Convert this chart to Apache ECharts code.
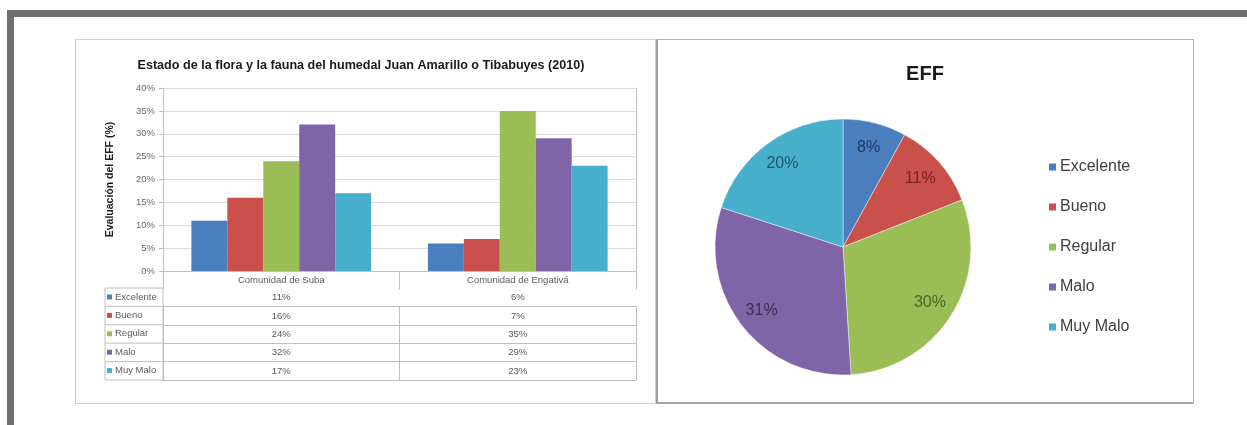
<!DOCTYPE html>
<html>
<head>
<meta charset="utf-8">
<script src="https://cdn.jsdelivr.net/npm/echarts@6/dist/echarts.min.js"></script>
<style>
  html, body { margin: 0; padding: 0; background: #fff; }
  #wrap { position: relative; width: 1247px; height: 425px; overflow: hidden; background: #fff; }
  .frame { position: absolute; left: 7px; top: 10px; width: 1240px; height: 415px; box-sizing: border-box;
           border-top: 7px solid #6f6f71; border-left: 7px solid #6f6f71; }
  .panel { position: absolute; box-sizing: border-box; background: #fff; }
  #p1 { left: 75px; top: 39px; width: 581px; height: 365px; border: 1px solid #d2d2d2; }
  #p2 { left: 656px; top: 39px; width: 538px; height: 365px; border: 1px solid #b4b4b4;
        border-left: 2px solid #9c9c9c; border-bottom: 2px solid #a4a4a4; }
  #chart { position: absolute; left: 0; top: 0; width: 1247px; height: 425px; }
</style>
</head>
<body>
<div id="wrap">
  <div class="frame"></div>
  <div class="panel" id="p1"></div>
  <div class="panel" id="p2"></div>
  <div id="chart"></div>
</div>
<script>
// Evaluación del estado de la flora y la fauna (EFF), humedal Juan Amarillo o Tibabuyes (2010)
const categories = ['Comunidad de Suba', 'Comunidad de Engativá'];
const levels = ['Excelente', 'Bueno', 'Regular', 'Malo', 'Muy Malo'];
const excelente = [11, 6];
const bueno = [16, 7];
const regular = [24, 35];
const malo = [32, 29];
const muyMalo = [17, 23];
const effShare = [8, 11, 30, 31, 20];   // EFF global, por nivel
const yMax = 40;
const yStep = 5;

const levelValues = [excelente, bueno, regular, malo, muyMalo];
const colors = ['#4a7ebf', '#c9504b', '#9bbd55', '#8064a8', '#47aecb'];
const labelColors = ['#1f3a66', '#7a2320', '#4c6424', '#3e2f57', '#1d5a6c'];

const SANS = "'Liberation Sans', Arial, sans-serif";
const lineGray = '#bfbfbf';

// bar chart plot area and data-table geometry
const plot = { left: 163, right: 636, top: 88, bottom: 271 };
const headerH = 17;
const rowH = 18.4;
const keyLeft = 105;
const rowOffsets = levels.map((_, i) => headerH + i * rowH);
const tableBottomOffset = headerH + levels.length * rowH;

const chart = echarts.init(document.getElementById('chart'), null, { renderer: 'canvas' });

// table rows drawn as offset category axes: one row per level
const tableAxes = levels.map((name, i) => ({
  type: 'category',
  gridIndex: 0,
  position: 'bottom',
  offset: rowOffsets[i],
  data: categories,
  axisLine: { show: true, lineStyle: { color: lineGray, width: 1 } },
  axisTick: { show: true, interval: 0, length: rowH, lineStyle: { color: lineGray } },
  axisLabel: {
    interval: 0, margin: 4.5, fontFamily: SANS, fontSize: 9.5, color: '#5a5a5a',
    formatter: (v, idx) => levelValues[i][idx] + '%'
  },
  splitLine: { show: false }
}));

// key column of the data table
const keyGraphics = [];
keyGraphics.push({
  type: 'rect', silent: true,
  shape: { x: keyLeft, y: plot.bottom + headerH, width: plot.left - keyLeft, height: levels.length * rowH },
  style: { fill: 'none', stroke: lineGray, lineWidth: 1 }
});
for (let i = 1; i < levels.length; i++) {
  const y = plot.bottom + rowOffsets[i];
  keyGraphics.push({
    type: 'line', silent: true,
    shape: { x1: keyLeft, y1: y, x2: plot.left, y2: y },
    style: { stroke: lineGray, lineWidth: 1 }
  });
}

const option = {
  animation: false,
  color: colors,
  title: [
    {
      text: 'Estado de la flora y la fauna del humedal Juan Amarillo o Tibabuyes (2010)',
      left: 361, top: 66, padding: 0,
      textAlign: 'center', textVerticalAlign: 'middle',
      textStyle: { fontFamily: SANS, fontSize: 12.6, fontWeight: 'bold', color: '#1a1a1a' }
    },
    {
      text: 'EFF',
      left: 925, top: 74, padding: 0,
      textAlign: 'center', textVerticalAlign: 'middle',
      textStyle: { fontFamily: SANS, fontSize: 20, fontWeight: 'bold', color: '#1a1a1a' }
    }
  ],
  legend: [
    {
      data: levels,
      orient: 'vertical',
      left: keyLeft + 2, top: plot.bottom + headerH + 3,
      padding: 0,
      icon: 'rect', itemWidth: 5, itemHeight: 5,
      itemGap: rowH - 12,
      textStyle: { fontFamily: SANS, fontSize: 9.5, lineHeight: 12, color: '#5a5a5a', padding: [0, 0, 0, -2] }
    },
    {
      data: levels,
      orient: 'vertical',
      left: 1049, top: 157,
      padding: 0,
      icon: 'rect', itemWidth: 7, itemHeight: 7,
      itemGap: 20,
      textStyle: { fontFamily: SANS, fontSize: 16, lineHeight: 20, color: '#404040', padding: [0, 0, 0, -1] }
    }
  ],
  grid: {
    left: plot.left, right: 1247 - plot.right, top: plot.top, bottom: 425 - plot.bottom,
    containLabel: false
  },
  xAxis: [
    {
      type: 'category',
      data: categories,
      position: 'bottom',
      axisLine: { show: true, lineStyle: { color: lineGray, width: 1 } },
      axisTick: { show: true, interval: 0, length: headerH, lineStyle: { color: lineGray } },
      axisLabel: { interval: 0, margin: 4, fontFamily: SANS, fontSize: 9.5, color: '#5a5a5a' }
    },
    ...tableAxes,
    {
      type: 'category',
      data: categories,
      position: 'bottom',
      offset: tableBottomOffset,
      axisLine: { show: true, lineStyle: { color: lineGray, width: 1 } },
      axisTick: { show: false },
      axisLabel: { show: false }
    }
  ],
  yAxis: [
    {
      type: 'value',
      min: 0, max: yMax, interval: yStep,
      name: 'Evaluación del EFF (%)',
      nameLocation: 'middle', nameRotate: 90, nameGap: 47,
      nameTextStyle: { fontFamily: SANS, fontSize: 10.5, fontWeight: 'bold', color: '#1a1a1a' },
      axisLine: { show: true, lineStyle: { color: lineGray } },
      axisTick: { show: true, length: 4, lineStyle: { color: lineGray } },
      axisLabel: { margin: 8, fontFamily: SANS, fontSize: 9.5, color: '#6a6a6a', formatter: '{value}%' },
      splitLine: { show: true, lineStyle: { color: '#d9d9d9', width: 1 } }
    },
    {
      type: 'value',
      position: 'right',
      min: 0, max: yMax, interval: yStep,
      axisLine: { show: true, lineStyle: { color: lineGray } },
      axisTick: { show: false },
      axisLabel: { show: false },
      splitLine: { show: false }
    }
  ],
  series: [
    ...levels.map((name, i) => ({
      name: name,
      type: 'bar',
      xAxisIndex: 0, yAxisIndex: 0,
      data: levelValues[i],
      barGap: '0%',
      barCategoryGap: '24%',
      itemStyle: { color: colors[i] },
      emphasis: { disabled: true }
    })),
    {
      name: 'EFF',
      type: 'pie',
      center: [843, 247],
      radius: [0, 128],
      startAngle: 90,
      clockwise: true,
      label: { show: false },
      labelLine: { show: false },
      itemStyle: { borderColor: 'rgba(255,255,255,0.55)', borderWidth: 0.8 },
      emphasis: { disabled: true },
      data: levels.map((n, i) => ({ name: n, value: effShare[i], itemStyle: { color: colors[i] } }))
    },
    {
      // percentage labels of the pie, placed on an outer ring
      name: 'EFF etiquetas',
      type: 'pie',
      center: [843, 247],
      radius: [72, 128],
      startAngle: 90,
      clockwise: true,
      silent: true,
      z: 3,
      itemStyle: { color: 'rgba(0,0,0,0)' },
      labelLine: { show: false },
      emphasis: { disabled: true },
      label: {
        show: true, position: 'inside', formatter: '{c}%',
        fontFamily: SANS, fontSize: 16
      },
      data: levels.map((n, i) => ({
        name: n, value: effShare[i],
        itemStyle: { color: 'rgba(0,0,0,0)' },
        label: { color: labelColors[i] }
      }))
    }
  ],
  graphic: keyGraphics
};

chart.setOption(option);
</script>
</body>
</html>
